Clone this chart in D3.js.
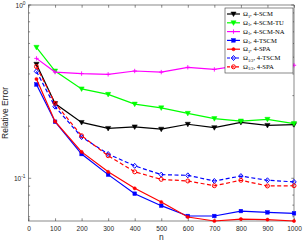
<!DOCTYPE html>
<html><head><meta charset="utf-8">
<script src="https://cdn.jsdelivr.net/npm/d3@7"></script>
<style>body{margin:0;background:#fff}svg{display:block}</style>
</head><body>
<script>
const nValues = [30,100,200,300,400,500,600,700,800,900,1000];
const scm    = [0.455,0.270,0.210,0.194,0.198,0.192,0.205,0.196,0.210,0.202,0.204];
const scmTU  = [0.570,0.416,0.328,0.305,0.268,0.255,0.237,0.221,0.214,0.219,0.207];
const scmNA  = [0.492,0.410,0.402,0.398,0.416,0.410,0.437,0.425,0.449,0.435,0.449];
const tscm   = [0.348,0.212,0.138,0.105,0.0815,0.0695,0.0606,0.0606,0.0647,0.0636,0.0628];
const spa    = [0.374,0.213,0.142,0.109,0.0875,0.073,0.0598,0.0567,0.0582,0.0577,0.0567];
const tscmH  = [0.414,0.259,0.173,0.138,0.118,0.105,0.104,0.0965,0.103,0.0974,0.0953];
const spaH   = [0.441,0.271,0.176,0.135,0.109,0.0986,0.0965,0.0906,0.0974,0.0903,0.0906];
const xTicks = [0,100,200,300,400,500,600,700,800,900,1000];
const seriesLabels = [
  ["1","4-SCM"],["1","4-SCM-TU"],["1","4-SCM-NA"],["1","4-TSCM"],["1","4-SPA"],["1/2","4-TSCM"],["1/2","4-SPA"]
];

const W=303,H=242;
const svg=d3.select("body").append("svg").attr("width",W).attr("height",H);
const x=d3.scaleLinear().domain([0,1000]).range([28.5,294]);
const y=d3.scaleLog().domain([0.0567,1]).range([221,5]);
const axisCol="#3a3a3a";

const series=[
  {v:scm,  c:"#000000",m:"tri",dash:null},
  {v:scmTU,c:"#00ff00",m:"tri",dash:null},
  {v:scmNA,c:"#ff00ff",m:"plus",dash:null},
  {v:tscm, c:"#0000ff",m:"sq",dash:null},
  {v:spa,  c:"#ff0000",m:"dot",dash:null},
  {v:tscmH,c:"#0000ff",m:"dia",dash:"4,2.5"},
  {v:spaH, c:"#ff0000",m:"circ",dash:"4,2.5"}
];

const g=svg.append("g");
g.append("rect").attr("x",x(0)).attr("y",y(1)).attr("width",x(1000)-x(0)).attr("height",y(0.0567)-y(1))
 .attr("fill","none").attr("stroke",axisCol).attr("stroke-width",0.6);

const xa=svg.append("g").attr("transform",`translate(0,${y(0.0567)})`)
 .call(d3.axisBottom(x).tickValues(xTicks).tickSize(-2.7).tickPadding(5.5).tickFormat(d3.format("d")));
xa.select(".domain").remove();
xa.selectAll("line").attr("stroke",axisCol).attr("stroke-width",0.6);
xa.selectAll("text").attr("font-family","Liberation Sans, Arial, sans-serif").attr("font-size",6.6).attr("fill","#262626");
const xt=svg.append("g").attr("transform",`translate(0,${y(1)})`)
 .call(d3.axisTop(x).tickValues(xTicks).tickSize(-2.7).tickFormat(""));
xt.select(".domain").remove();
xt.selectAll("line").attr("stroke",axisCol).attr("stroke-width",0.6);

const minor=[0.06,0.07,0.08,0.09,0.2,0.3,0.4,0.5,0.6,0.7,0.8,0.9];
const major=[0.1,1];
[[x(0),1],[x(1000),-1]].forEach(([xx,dir])=>{
  minor.forEach(t=>svg.append("line").attr("x1",xx).attr("x2",xx+dir*1.6).attr("y1",y(t)).attr("y2",y(t)).attr("stroke",axisCol).attr("stroke-width",0.6));
  major.forEach(t=>svg.append("line").attr("x1",xx).attr("x2",xx+dir*2.7).attr("y1",y(t)).attr("y2",y(t)).attr("stroke",axisCol).attr("stroke-width",0.6));
});
const yl=[[1,"0"],[0.1,"-1"]];
yl.forEach(([t,e])=>{
  const tx=svg.append("text").attr("x",x(0)-3).attr("y",y(t)+2.5).attr("text-anchor","end")
   .attr("font-family","Liberation Sans, Arial, sans-serif").attr("font-size",6.6).attr("fill","#262626");
  tx.append("tspan").text("10");
  tx.append("tspan").attr("dy",-3).attr("font-size",4.8).text(e);
});

svg.append("text").attr("x",(x(0)+x(1000))/2).attr("y",240).attr("text-anchor","middle")
 .attr("font-family","Liberation Sans, Arial, sans-serif").attr("font-size",8.5).attr("fill","#262626").text("n");
svg.append("text").attr("transform",`translate(7.5,${(y(1)+y(0.0567))/2}) rotate(-90)`).attr("text-anchor","middle")
 .attr("font-family","Liberation Sans, Arial, sans-serif").attr("font-size",8.5).attr("fill","#262626").text("Relative Error");

function marker(sel,type,c){
  if(type==="tri") sel.append("path").attr("d","M-2.6,-2 L2.6,-2 L0,2.6 Z").attr("fill",c).attr("stroke",c).attr("stroke-width",0.5);
  else if(type==="plus") sel.append("path").attr("d","M-2.2,0 H2.2 M0,-2.2 V2.2").attr("stroke",c).attr("stroke-width",0.9).attr("fill","none");
  else if(type==="sq") sel.append("rect").attr("x",-1.8).attr("y",-1.8).attr("width",3.6).attr("height",3.6).attr("fill",c).attr("stroke",c).attr("stroke-width",0.5);
  else if(type==="dot") sel.append("circle").attr("r",1.6).attr("fill",c).attr("stroke",c).attr("stroke-width",0.5);
  else if(type==="dia") sel.append("path").attr("d","M0,-2.5 L2.2,0 L0,2.5 L-2.2,0 Z").attr("fill","none").attr("stroke",c).attr("stroke-width",1);
  else if(type==="circ") sel.append("circle").attr("r",2).attr("fill","none").attr("stroke",c).attr("stroke-width",1);
}

const line=d3.line().x((d,i)=>x(nValues[i])).y(d=>y(d));
const plot=svg.append("g");
series.forEach(s=>{
  plot.append("path").datum(s.v).attr("d",line).attr("fill","none").attr("stroke",s.c).attr("stroke-width",1.2)
   .attr("stroke-dasharray",s.dash);
  s.v.forEach((d,i)=>{
    const m=plot.append("g").attr("transform",`translate(${x(nValues[i])},${y(d)})`);
    marker(m,s.m,s.c);
  });
});

const lg=svg.append("g").attr("transform","translate(225,8)");
lg.append("rect").attr("x",0).attr("y",0).attr("width",68).attr("height",65).attr("fill","#fff").attr("stroke",axisCol).attr("stroke-width",0.6);
series.forEach((s,i)=>{
  const yy=6+i*8.8;
  lg.append("line").attr("x1",2).attr("x2",15).attr("y1",yy).attr("y2",yy).attr("stroke",s.c).attr("stroke-width",1.2).attr("stroke-dasharray",s.dash?"3,1.5":null);
  marker(lg.append("g").attr("transform",`translate(8.5,${yy})`),s.m,s.c);
  const t=lg.append("text").attr("x",18).attr("y",yy+2.2).attr("font-family","Liberation Serif, Times New Roman, serif").attr("font-size",6.6).attr("fill","#000");
  t.append("tspan").text("Ω");
  t.append("tspan").attr("dy",1.3).attr("font-size",4.4).text(seriesLabels[i][0]);
  t.append("tspan").attr("dy",-1.3).text(", "+seriesLabels[i][1]);
});
</script>
</body></html>
